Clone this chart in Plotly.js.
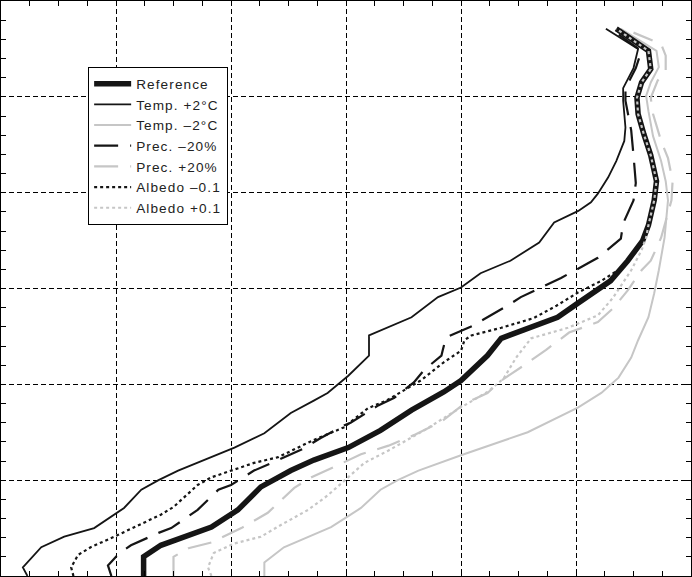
<!DOCTYPE html>
<html>
<head>
<meta charset="utf-8">
<script src="https://cdn.plot.ly/plotly-3.0.1.min.js"></script>
<style>
html,body{margin:0;padding:0;background:#fff;}
#chart{width:692px;height:577px;}
</style>
</head>
<body>
<div id="chart"></div>
<script>
// Series names (legend order)
const seriesNames = ["Reference", "Temp. +2°C", "Temp. –2°C", "Prec. –20%", "Prec. +20%", "Albedo –0.1", "Albedo +0.1"];

// Reference
const refX = [12.4,12.4,13.9,18.3,20.6,22.6,25.2,27.2,30.2,33.0,35.7,38.5,40.0,42.3,43.5,48.4,50.2,53.0,54.5,55.8,56.3,56.8,57.0,56.5,55.9,55.4,55.3,55.7,56.5,56.3,53.5];
const refY = [0,20,32,51,69,93,110,121,134,152,173,192,204,230,248,270,285,308,329,350,366,392,412,439,461,482,499,515,529,548,571];

// Temp. +2°C
const tPlusX = [2.3,1.9,3.5,5.5,8.1,10.0,10.7,12.2,13.7,15.4,18.0,20.3,22.9,25.2,27.2,28.4,30.2,32.0,32.0,35.7,38.0,40.0,41.7,44.3,46.8,48.1,50.2,51.3,51.9,52.8,53.5,54.2,54.3,54.1,54.1,55.0,55.4,52.6];
const tPlusY = [0,9,30,41,50,66,71,90,100,110,123,134,149,170,183,191,209,230,251,270,291,301,316,329,348,369,381,390,399,416,433,454,468,496,509,530,550,571];

// Temp. –2°C
const tMinusX = [22.9,22.9,24.6,28.7,30.4,31.3,33.0,34.5,36.3,40.0,45.8,49.3,50.2,52.2,53.7,54.8,55.4,56.3,56.8,57.2,57.7,58.0,57.8,57.4,56.7,56.3,56.1,56.5,57.2,57.0,53.9];
const tMinusY = [0,14,30,51,64,71,90,100,110,126,150,170,176,191,207,228,246,270,295,319,353,392,412,433,459,485,501,515,531,548,571];

// Prec. –20%
const pMinusX = [9.6,9.3,10.3,11.3,13.7,14.8,17.1,17.7,18.9,20.0,22.0,24.1,26.3,27.8,29.8,30.4,32.8,34.2,35.9,36.8,38.3,38.4,38.7,41.0,42.3,44.3,45.2,47.7,48.7,51.0,51.9,53.9,54.1,55.0,55.2,55.0,54.8,54.3,54.3,55.2,55.7,53.0];
const pMinusY = [0,11,24,32,45,50,69,76,90,95,110,121,133,144,157,160,178,186,202,215,230,235,249,261,270,284,291,305,311,326,332,352,368,392,410,439,465,496,509,530,548,571];

// Prec. +20%
const pPlusX = [15.0,15.0,16.3,18.3,20.9,23.2,25.5,27.0,29.0,31.3,33.7,35.9,38.3,40.3,42.3,43.5,45.5,47.4,49.4,51.9,53.2,54.5,55.7,56.5,57.4,57.9,58.3,58.4,58.0,57.4,56.7,56.5,57.1,57.8,57.8,57.4,55.0];
const pPlusY = [0,20,29,35,50,66,92,103,114,127,136,147,161,180,191,204,220,236,254,265,279,298,319,329,353,376,392,412,436,454,482,499,517,527,543,555,567];

// Albedo –0.1
const aMinusX = [6.3,6.1,6.7,7.8,10.2,11.6,13.9,15.0,17.1,18.3,22.0,24.1,27.2,29.8,31.9,33.5,35.4,36.5,38.5,40.0,40.3,40.9,43.5,46.3,48.3,50.2,52.2,53.9,55.2,55.8,56.3,56.8,57.0,56.5,55.9,55.4,55.3,55.7,56.5,56.3,53.5];
const aMinusY = [0,9,22,30,43,51,64,72,95,103,118,124,142,155,175,183,196,204,223,235,246,251,259,269,282,296,308,321,338,350,366,392,412,439,461,482,499,515,529,548,571];

// Albedo +0.1
const aPlusX = [18.3,18.0,18.5,20.3,22.6,24.3,26.7,28.4,30.0,31.6,33.7,36.8,40.0,42.3,43.7,44.8,46.1,49.3,51.9,53.2,54.8,55.7,56.1,56.3,56.8,57.0,56.5,55.9,55.4,55.3,55.7,56.5,56.3,53.5];
const aPlusY = [0,9,24,34,41,53,69,84,101,118,131,152,176,192,206,228,248,259,272,290,319,340,353,366,392,412,439,461,482,499,515,529,548,571];

const BLACK = "#151515";
const GRAY = "#c6c6c6";

function label(name) {
  // slightly wider letter spacing, as in the reference legend
  return '<span style="letter-spacing:1.1px">' + name + '</span>';
}

function tr(x, y, name, color, width, dash, rank) {
  return {x: x, y: y, name: label(name), type: "scatter", mode: "lines",
          line: {color: color, width: width, dash: dash}, legendrank: rank};
}

const data = [
  tr(tMinusX, tMinusY, seriesNames[2], GRAY, 2, "solid", 3),
  tr(pPlusX, pPlusY, seriesNames[4], GRAY, 2.2, "24px,12px", 5),
  tr(tPlusX, tPlusY, seriesNames[1], BLACK, 1.8, "solid", 2),
  tr(pMinusX, pMinusY, seriesNames[3], BLACK, 2.2, "24px,12px", 4),
  tr(refX, refY, seriesNames[0], BLACK, 5.5, "solid", 1),
  tr(aMinusX, aMinusY, seriesNames[5], BLACK, 2.2, "3px,3px", 6),
  tr(aPlusX, aPlusY, seriesNames[6], GRAY, 2.2, "3px,3px", 7)
];

const axisCommon = {
  showgrid: true, gridcolor: "#000", gridwidth: 1, griddash: "5px,3px",
  zeroline: false, showline: true, linecolor: "#000", linewidth: 1.5,
  mirror: "allticks", ticks: "inside", ticklen: 5, tickcolor: "#000", tickwidth: 1,
  showticklabels: false, fixedrange: true
};

const layout = {
  width: 692, height: 577,
  margin: {l: 1, r: 1, t: 1, b: 1},
  paper_bgcolor: "#fff", plot_bgcolor: "#fff",
  showlegend: true,
  xaxis: Object.assign({}, axisCommon, {range: [0, 60], dtick: 10, tick0: 0,
    minor: {dtick: 2.5, ticks: "inside", ticklen: 5, tickcolor: "#000", showgrid: false}}),
  yaxis: Object.assign({}, axisCommon, {range: [0, 600], dtick: 100, tick0: 0,
    minor: {dtick: 20, ticks: "inside", ticklen: 5, tickcolor: "#000", showgrid: false}}),
  legend: {
    x: 0.126, y: 0.885, xanchor: "left", yanchor: "top",
    bgcolor: "#fff", bordercolor: "#000", borderwidth: 1.2,
    font: {family: "Liberation Sans, Arial, sans-serif", size: 13.6, color: "#222"},
    itemwidth: 37, tracegroupgap: 0
  }
};

Plotly.newPlot("chart", data, layout, {staticPlot: true, displayModeBar: false});
</script>
</body>
</html>
